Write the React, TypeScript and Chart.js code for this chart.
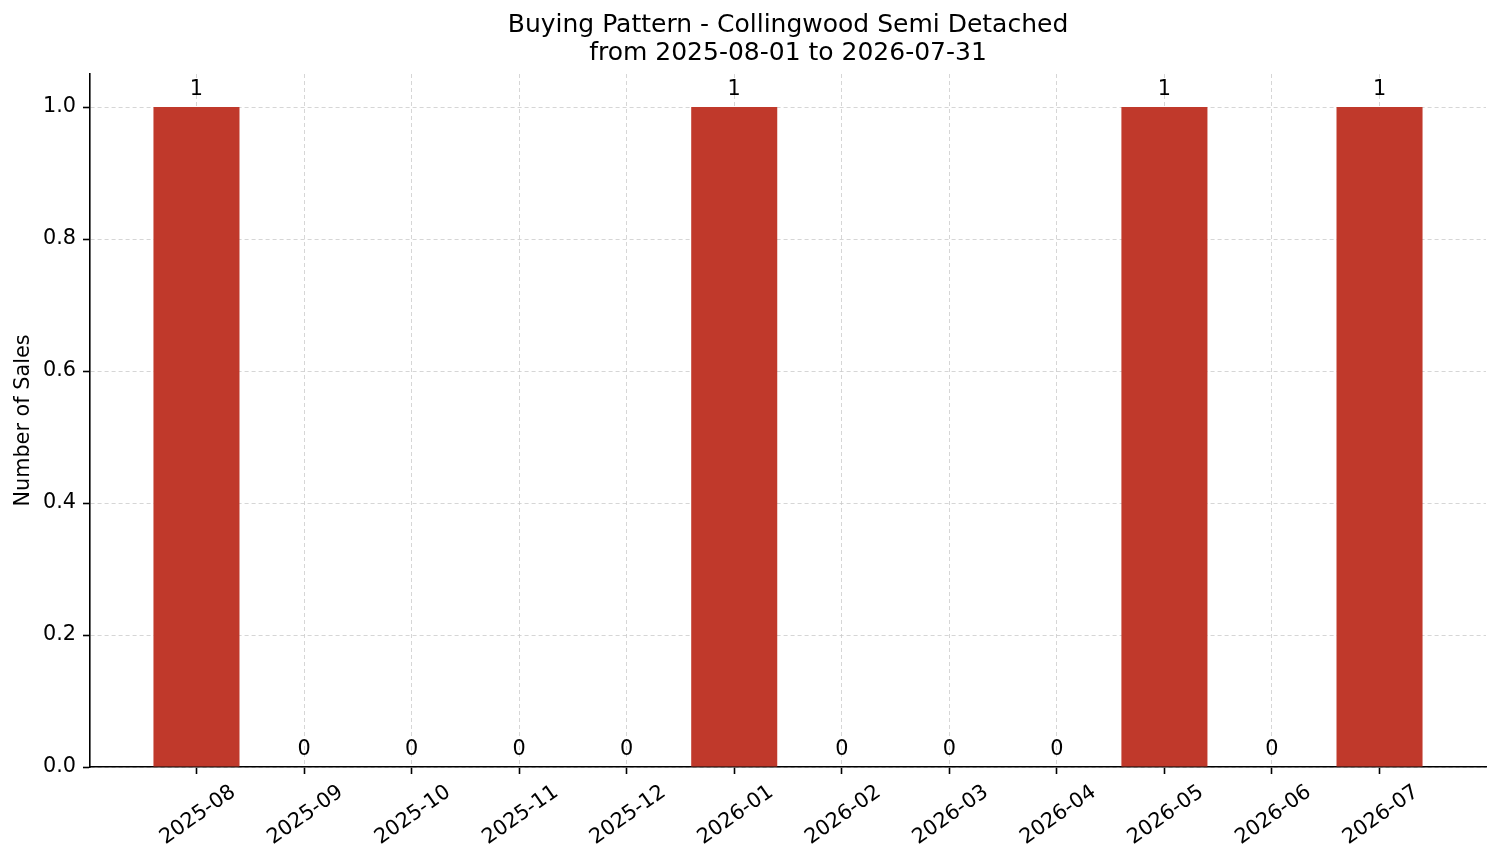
import { useEffect, useRef } from "react";
import { Chart, registerables } from "chart.js";

Chart.register(...registerables);

const months = [
  "2025-08", "2025-09", "2025-10", "2025-11", "2025-12", "2026-01",
  "2026-02", "2026-03", "2026-04", "2026-05", "2026-06", "2026-07",
];
const sales = [1, 0, 0, 0, 0, 1, 0, 0, 0, 1, 0, 1];
const yTicks = [0, 0.2, 0.4, 0.6, 0.8, 1.0];
const titleLines = [
  "Buying Pattern - Collingwood Semi Detached",
  "from 2025-08-01 to 2026-07-31",
];

const FONT = "'DejaVu Sans', sans-serif";

// value labels above each bar
const barLabels = {
  id: "barLabels",
  afterDraw(chart: Chart) {
    const ctx = chart.ctx;
    const meta = chart.getDatasetMeta(0);
    ctx.save();
    ctx.font = `20.8px ${FONT}`;
    ctx.fillStyle = "#000";
    ctx.textAlign = "center";
    ctx.textBaseline = "alphabetic";
    meta.data.forEach((bar: any, i) => {
      ctx.fillText(String(sales[i]), bar.x, bar.y - 12);
    });
    ctx.restore();
  },
};

// title centred over the plot area, like matplotlib
const plotTitle = {
  id: "plotTitle",
  afterDraw(chart: Chart) {
    const { ctx, chartArea } = chart;
    const cx = (chartArea.left + chartArea.right) / 2;
    ctx.save();
    ctx.font = `25px ${FONT}`;
    ctx.fillStyle = "#000";
    ctx.textAlign = "center";
    ctx.textBaseline = "middle";
    titleLines.forEach((line, i) => {
      ctx.fillText(line, cx, 25 + i * 28.5);
    });
    ctx.restore();
  },
};

export default function App() {
  const canvasRef = useRef<HTMLCanvasElement>(null);
  const chartRef = useRef<Chart | null>(null);

  useEffect(() => {
    if (!canvasRef.current) return;
    if (chartRef.current) chartRef.current.destroy();

    const gridColor = "rgba(200, 200, 200, 0.75)";

    chartRef.current = new Chart(canvasRef.current, {
      type: "bar",
      data: {
        datasets: [
          {
            label: "Sales",
            data: sales.map((v, i) => ({ x: i, y: v })),
            backgroundColor: "#c0392b",
            barPercentage: 0.8,
            categoryPercentage: 1,
          },
        ],
      },
      options: {
        animation: false,
        responsive: true,
        maintainAspectRatio: false,
        layout: { padding: { left: 0, right: 15, top: 74, bottom: 0 } },
        plugins: {
          legend: { display: false },
          tooltip: { enabled: false },
          title: { display: false },
        },
        scales: {
          x: {
            type: "linear",
            min: -0.99,
            max: 11.99,
            offset: false,
            z: 1,
            afterBuildTicks: (scale: any) => {
              scale.ticks = months.map((_, i) => ({ value: i }));
            },
            afterFit: (scale: any) => {
              scale.height = 96;
            },
            grid: {
              color: gridColor,
              lineWidth: 1,
              offset: false,
              drawTicks: true,
              tickLength: 7,
              tickColor: "#000",
              tickWidth: 1.6,
              tickBorderDash: [],
            },
            border: { display: true, color: "#000", width: 1.6, dash: [4, 3] },
            ticks: {
              color: "#000",
              font: { family: FONT, size: 20.8 },
              minRotation: 35,
              maxRotation: 35,
              autoSkip: false,
              padding: 6,
              labelOffset: 37,
              callback: (value: any) => months[value as number] ?? "",
            },
          },
          y: {
            type: "linear",
            min: 0,
            max: 1.05,
            z: 1,
            afterBuildTicks: (scale: any) => {
              scale.ticks = yTicks.map((v) => ({ value: v }));
            },
            afterFit: (scale: any) => {
              scale.width = 90;
            },
            grid: {
              color: gridColor,
              lineWidth: 1,
              drawTicks: true,
              tickLength: 7,
              tickColor: "#000",
              tickWidth: 1.6,
              tickBorderDash: [],
            },
            border: { display: true, color: "#000", width: 1.6, dash: [4, 3] },
            ticks: {
              color: "#000",
              font: { family: FONT, size: 20.8 },
              padding: 7,
              callback: (value: any) => Number(value).toFixed(1),
            },
            title: {
              display: true,
              text: "Number of Sales",
              color: "#000",
              font: { family: FONT, size: 20.8 },
              padding: { top: 11, bottom: 0 },
            },
          },
        },
      },
      plugins: [barLabels, plotTitle],
    });

    return () => {
      if (chartRef.current) {
        chartRef.current.destroy();
        chartRef.current = null;
      }
    };
  }, []);

  return (
    <div style={{ position: "absolute", left: 0, top: 0, width: 1501, height: 863, background: "#fff" }}>
      <canvas ref={canvasRef} />
    </div>
  );
}
